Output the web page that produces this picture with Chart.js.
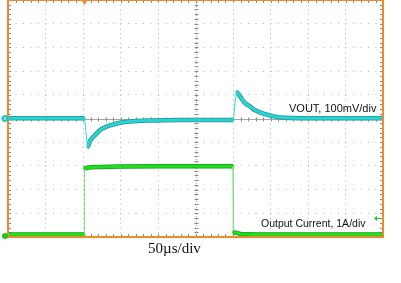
<!DOCTYPE html>
<html>
<head>
<meta charset="utf-8">
<script src="https://cdn.jsdelivr.net/npm/chart.js@4"></script>
<style>
html, body { margin: 0; padding: 0; background: #fff; }
canvas { display: block; }
</style>
</head>
<body>
<canvas id="scope" width="401" height="283"></canvas>
<script>
// VOUT trace (time in us, deviation from the centre line in mV, 100mV/div)
const voutTime = [0, 50, 101.7, 106.3, 109.3, 116, 125, 133, 142.7, 156, 178, 196, 229, 256, 300,
                  304.7, 309, 316, 322.7, 329, 342.7, 356, 369, 389, 450, 500];
const voutMv = [1, 1, 1, -119, -95, -70, -44, -32, -23, -15, -9, -8, -6, -6, -6,
                111, 95, 65, 51, 36, 18, 8, 3, 1, 1, 1];

// Output current trace (time in us, amps, 1A/div, zero on the bottom line)
const currentTime = [0, 50, 101.5, 102, 110, 150, 200, 250, 300, 300.5, 310, 330, 400, 500];
const currentAmp = [0.11, 0.11, 0.11, 2.9, 2.94, 2.97, 2.98, 2.98, 2.98, 0.2, 0.13, 0.11, 0.11, 0.11];

// 10 x 10 divisions: 50us/div, 100mV/div, 1A/div
const timeRange = [0, 500];
const voutRange = [-500, 500];
const currentRange = [0, 10];
const triggerTime = 102;
const triggerLevel = 0.79;

const labels = {
  vout: 'VOUT, 100mV/div',
  current: 'Output Current, 1A/div',
  time: '50µs/div'
};

const toPoints = (xs, ys) => xs.map((t, i) => ({ x: t, y: ys[i] }));

// steep edges are drawn as a thin line, like the scope does
const steep = ctx => {
  const dx = Math.abs(ctx.p1.x - ctx.p0.x);
  const dy = Math.abs(ctx.p1.y - ctx.p0.y);
  return dy > 5 * Math.max(dx, 0.01);
};

const scopeDecor = {
  id: 'scopeDecor',
  beforeDatasetsDraw(chart) {
    const { ctx, chartArea: a, scales: { x, y } } = chart;
    const cx = Math.round(x.getPixelForValue(250)) + 0.5;
    const cy = Math.round(y.getPixelForValue(0)) + 0.5;
    ctx.save();
    ctx.strokeStyle = '#a8a8a8';
    ctx.lineWidth = 1;
    ctx.beginPath();
    ctx.moveTo(a.left, cy); ctx.lineTo(a.right, cy);
    ctx.stroke();
    ctx.setLineDash([1, 2]);
    ctx.beginPath();
    ctx.moveTo(cx, a.top); ctx.lineTo(cx, a.bottom);
    ctx.stroke();
    ctx.setLineDash([]);
    ctx.strokeStyle = '#8a8a8a';
    ctx.beginPath();
    for (let k = 0; k <= 50; k++) {
      const px = Math.round(x.getPixelForValue(k * 10)) + 0.5;
      ctx.moveTo(px, cy - 2); ctx.lineTo(px, cy + 2);
      ctx.moveTo(px, a.top); ctx.lineTo(px, a.top + 3);
      ctx.moveTo(px, a.bottom - 3); ctx.lineTo(px, a.bottom);
    }
    for (let k = 0; k <= 50; k++) {
      const py = Math.round(y.getPixelForValue(-500 + k * 20)) + 0.5;
      ctx.moveTo(cx - 2, py); ctx.lineTo(cx + 2, py);
      ctx.moveTo(a.left, py); ctx.lineTo(a.left + 3, py);
      ctx.moveTo(a.right - 3, py); ctx.lineTo(a.right, py);
    }
    ctx.stroke();
    ctx.restore();
  },
  afterDatasetsDraw(chart) {
    const { ctx, chartArea: a, scales: { x, y, y2 } } = chart;
    ctx.save();
    // orange frame
    ctx.strokeStyle = '#ef8a2c';
    ctx.lineWidth = 2;
    ctx.strokeRect(a.left, a.top, a.right - a.left, a.bottom - a.top);

    // trigger position marker
    const tx = x.getPixelForValue(triggerTime);
    ctx.fillStyle = '#ef8a2c';
    ctx.beginPath();
    ctx.moveTo(tx - 3, a.top); ctx.lineTo(tx + 3, a.top); ctx.lineTo(tx, a.top + 5);
    ctx.fill();

    // channel ground markers
    const cy = y.getPixelForValue(0);
    ctx.fillStyle = '#20c4c4';
    ctx.beginPath(); ctx.arc(5, cy, 3.5, 0, Math.PI * 2); ctx.fill();
    ctx.fillStyle = '#fff';
    ctx.fillRect(4.5, cy - 1.5, 1, 3);
    const gy = y2.getPixelForValue(0);
    ctx.fillStyle = '#22c822';
    ctx.beginPath(); ctx.arc(5, gy - 1, 3, 0, Math.PI * 2); ctx.fill();

    // trigger level arrow
    const ty = Math.round(y2.getPixelForValue(triggerLevel)) + 0.5;
    ctx.strokeStyle = '#22c822';
    ctx.fillStyle = '#22c822';
    ctx.lineWidth = 1;
    ctx.beginPath(); ctx.moveTo(a.right - 7, ty); ctx.lineTo(a.right - 1, ty); ctx.stroke();
    ctx.beginPath(); ctx.moveTo(a.right - 9, ty); ctx.lineTo(a.right - 6, ty - 2.5); ctx.lineTo(a.right - 6, ty + 2.5); ctx.fill();

    // labels
    ctx.fillStyle = '#111';
    ctx.textBaseline = 'alphabetic';
    ctx.textAlign = 'left';
    ctx.font = '11px "Liberation Sans", Arial, sans-serif';
    ctx.fillText(labels.vout, 289, 112);
    ctx.font = '10.5px "Liberation Sans", Arial, sans-serif';
    ctx.fillText(labels.current, 261, 227);
    ctx.font = '15px "Liberation Serif", "Times New Roman", serif';
    ctx.fillText(labels.time, 148, 253);
    ctx.restore();
  }
};

new Chart(document.getElementById('scope').getContext('2d'), {
  type: 'line',
  data: {
    datasets: [
      {
        label: 'VOUT',
        data: toPoints(voutTime, voutMv),
        yAxisID: 'y',
        borderColor: '#26d4d4',
        borderWidth: 3,
        cubicInterpolationMode: 'monotone',
        segment: { borderWidth: c => steep(c) ? 1 : undefined }
      },
      {
        label: 'VOUT edge',
        data: toPoints(voutTime, voutMv),
        yAxisID: 'y',
        borderColor: '#2a9090',
        borderWidth: 4.5,
        borderCapStyle: 'butt',
        cubicInterpolationMode: 'monotone',
        segment: { borderColor: c => steep(c) ? 'rgba(0,0,0,0)' : undefined }
      },
      {
        label: 'Output Current',
        data: toPoints(currentTime, currentAmp),
        yAxisID: 'y2',
        borderColor: '#1ce01c',
        borderWidth: 3,
        segment: {
          borderWidth: c => steep(c) ? 1 : undefined,
          borderColor: c => steep(c) ? '#86dd86' : undefined
        }
      },
      {
        label: 'Output Current edge',
        data: toPoints(currentTime, currentAmp),
        yAxisID: 'y2',
        borderColor: '#1a961a',
        borderWidth: 4.5,
        borderCapStyle: 'butt',
        segment: { borderColor: c => steep(c) ? 'rgba(0,0,0,0)' : undefined }
      }
    ]
  },
  options: {
    responsive: false,
    devicePixelRatio: 1,
    animation: false,
    layout: { padding: { left: 8, right: 18, top: 0, bottom: 46 } },
    elements: { point: { radius: 0 }, line: { borderCapStyle: 'round', borderJoinStyle: 'round' } },
    plugins: { legend: { display: false }, tooltip: { enabled: false } },
    scales: {
      x: {
        type: 'linear',
        min: timeRange[0],
        max: timeRange[1],
        ticks: { display: false, stepSize: 50 },
        grid: { color: '#b4b4b4', lineWidth: 1, drawTicks: false },
        border: { display: false, dash: [1, 3.74] }
      },
      y: {
        min: voutRange[0],
        max: voutRange[1],
        ticks: { display: false, stepSize: 100 },
        grid: { color: '#b4b4b4', lineWidth: 1, drawTicks: false },
        border: { display: false, dash: [1, 6.5] }
      },
      y2: {
        display: false,
        min: currentRange[0],
        max: currentRange[1]
      }
    }
  },
  plugins: [scopeDecor]
});
</script>
</body>
</html>
